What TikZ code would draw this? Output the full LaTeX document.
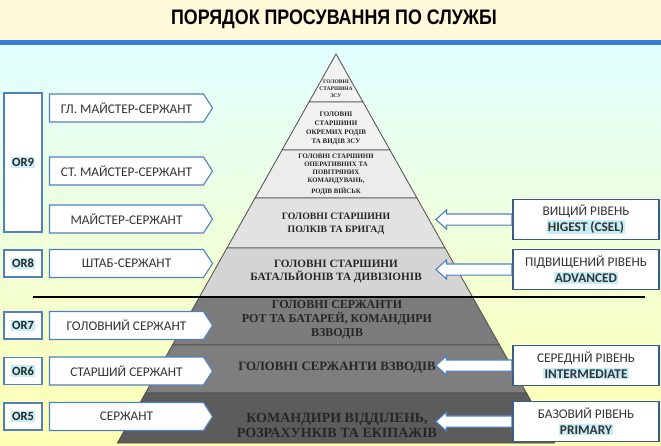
\documentclass[tikz,border=0pt]{standalone}
\usepackage{fontspec}
\setmainfont{Carlito}
\newfontfamily\titlefont[FakeStretch=0.85]{Liberation Sans}
\newfontfamily\tierfont{Liberation Serif}
\usepackage{tikz}
\usetikzlibrary{shapes.symbols, shapes.arrows, positioning, calc}
\definecolor{cream}{HTML}{FFF9DA}
\definecolor{bandblue}{HTML}{3C7DD9}
\definecolor{boxblue}{HTML}{5080C0}
\definecolor{darkblue}{HTML}{3A5C88}
\definecolor{glowcyan}{HTML}{C6EEF6}
\definecolor{tierA}{HTML}{F2F2F2}
\definecolor{tierB}{HTML}{ECECEC}
\definecolor{tierC}{HTML}{E2E2E2}
\definecolor{tierD}{HTML}{D4D4D4}
\definecolor{tierE}{HTML}{7C7C7C}
\definecolor{tierF}{HTML}{7E7E7E}
\definecolor{tierG}{HTML}{5C5C5C}
\newcommand{\glowbf}[1]{{\setlength{\fboxsep}{1.2pt}\colorbox{glowcyan}{\textbf{#1}}}}

\begin{document}
\begin{tikzpicture}[x=1pt, y=-1pt,
    rank/.style={shape=signal, signal to=east, signal pointer angle=114, draw=boxblue, line width=1.1pt,
                 fill=white, minimum width=163pt, minimum height=28pt, inner sep=2pt,
                 font=\fontsize{13.3}{15}\selectfont, text=black!80},
    orlbl/.style={draw=boxblue, line width=1.1pt, fill=white, minimum width=38pt, minimum height=27pt,
                  inner sep=1pt, font=\fontsize{12.5}{14}\selectfont, text=black!85},
    lvl/.style={draw=darkblue, line width=1.1pt, fill=white, minimum width=146pt, minimum height=40pt,
                align=center, inner sep=2pt, font=\fontsize{13.3}{16}\selectfont, text=black!80},
    larr/.style={single arrow, draw=boxblue, line width=1.1pt, fill=white, shape border rotate=180,
                 single arrow head extend=4pt, single arrow tip angle=84, minimum height=76pt, inner sep=5pt},
    tier/.style={align=center, font=\tierfont\bfseries, text=black!85}
]
\useasboundingbox (0,0) rectangle (661,445);
\fill[cream] (0,0) rectangle (661,40);
\shade[top color=cyan!12, middle color=lime!10!yellow!12, bottom color=yellow!30] (0,44) rectangle (661,445);
\fill[bandblue] (0,40) rectangle (661,45);

\node[font=\titlefont\bfseries\fontsize{21}{24}\selectfont] (title) at (334,19) {ПОРЯДОК ПРОСУВАННЯ ПО СЛУЖБІ};

\foreach \ya/\yb/\col in {54/102/tierA, 102/150/tierA, 150/198/tierB, 198/248/tierC,
                           248/297/tierD, 297/345/tierE, 345/393/tierF, 393/443/tierG}
    \filldraw[fill=\col, draw=black!70, line width=0.8pt]
        ({336-0.562*(\ya-54)},\ya) -- ({336+0.562*(\ya-54)},\ya) --
        ({336+0.562*(\yb-54)},\yb) -- ({336-0.562*(\yb-54)},\yb) -- cycle;

\node[tier, font=\tierfont\bfseries\fontsize{5.5}{7}\selectfont] (t1) at (336,89)
    {ГОЛОВНІ\\СТАРШИНА\\ЗСУ};
\node[tier, font=\tierfont\bfseries\fontsize{7}{9}\selectfont] (t2) at (336,128.5)
    {ГОЛОВНІ\\СТАРШИНИ\\ОКРЕМИХ РОДІВ\\ТА ВИДІВ ЗСУ};
\node[tier, font=\tierfont\bfseries\fontsize{6.8}{8}\selectfont] (t3) at (336,174)
    {ГОЛОВНІ СТАРШИНИ\\ОПЕРАТИВНИХ ТА\\ПОВІТРЯНИХ\\КОМАНДУВАНЬ,\\[3pt]РОДІВ ВІЙСЬК};
\node[tier, font=\tierfont\bfseries\fontsize{9.8}{13}\selectfont] (t4) at (336,223.5)
    {ГОЛОВНІ СТАРШИНИ\\ПОЛКІВ ТА БРИГАД};
\node[tier, font=\tierfont\bfseries\fontsize{11.2}{13.5}\selectfont] (t5) at (336,271.5)
    {ГОЛОВНІ СТАРШИНИ\\БАТАЛЬЙОНІВ ТА ДИВІЗІОНІВ};
\node[tier, font=\tierfont\bfseries\fontsize{12}{14}\selectfont] (t6) at (337,319.5)
    {ГОЛОВНІ СЕРЖАНТИ\\РОТ ТА БАТАРЕЙ, КОМАНДИРИ\\ВЗВОДІВ};
\node[tier, font=\tierfont\bfseries\fontsize{12.8}{14}\selectfont] (t7) at (337,368)
    {ГОЛОВНІ СЕРЖАНТИ ВЗВОДІВ};
\node[tier, font=\tierfont\bfseries\fontsize{14}{15.5}\selectfont] (t8) at (337,425.5)
    {КОМАНДИРИ ВІДДІЛЕНЬ,\\РОЗРАХУНКІВ ТА ЕКІПАЖІВ};

\draw[line width=2.5pt] (33,297) -- (645,297);

\node[orlbl, minimum height=139pt] (or9) at (23,162.5) {\glowbf{OR9}};
\node[orlbl] (or8) at (23,263.5) {\glowbf{OR8}};
\node[orlbl] (or7) at (23,325.5) {\glowbf{OR7}};
\node[orlbl] (or6) at (23,371) {\glowbf{OR6}};
\node[orlbl] (or5) at (23,416.5) {\glowbf{OR5}};

\node[rank] (r1) at (126.5,108) {ГЛ. МАЙСТЕР-СЕРЖАНТ};
\node[rank] (r2) at (126.5,171) {СТ. МАЙСТЕР-СЕРЖАНТ};
\node[rank] (r3) at (126.5,219) {МАЙСТЕР-СЕРЖАНТ};
\node[rank] (r4) at (126.5,263.5) {ШТАБ-СЕРЖАНТ};
\node[rank] (r5) at (126.5,325.5) {ГОЛОВНИЙ СЕРЖАНТ};
\node[rank] (r6) at (126.5,371) {СТАРШИЙ СЕРЖАНТ};
\node[rank] (r7) at (126.5,416.5) {СЕРЖАНТ};

\node[lvl] (high) at (586,219.5) {ВИЩИЙ РІВЕНЬ\\\glowbf{HIGEST (CSEL)}};
\node[lvl] (adv) at (586,269.5) {ПІДВИЩЕНИЙ РІВЕНЬ\\\glowbf{ADVANCED}};
\node[lvl] (mid) at (586,365.5) {СЕРЕДНІЙ РІВЕНЬ\\\glowbf{INTERMEDIATE}};
\node[lvl] (base) at (586,421.5) {БАЗОВИЙ РІВЕНЬ\\\glowbf{PRIMARY}};

\node[larr, anchor=tail] (aHigh) at (high.west) {};
\node[larr, anchor=tail] (aAdv) at (adv.west) {};
\node[larr, anchor=tail] (aMid) at (mid.west) {};
\node[larr, anchor=tail] (aBase) at (base.west) {};
\end{tikzpicture}
\end{document}
